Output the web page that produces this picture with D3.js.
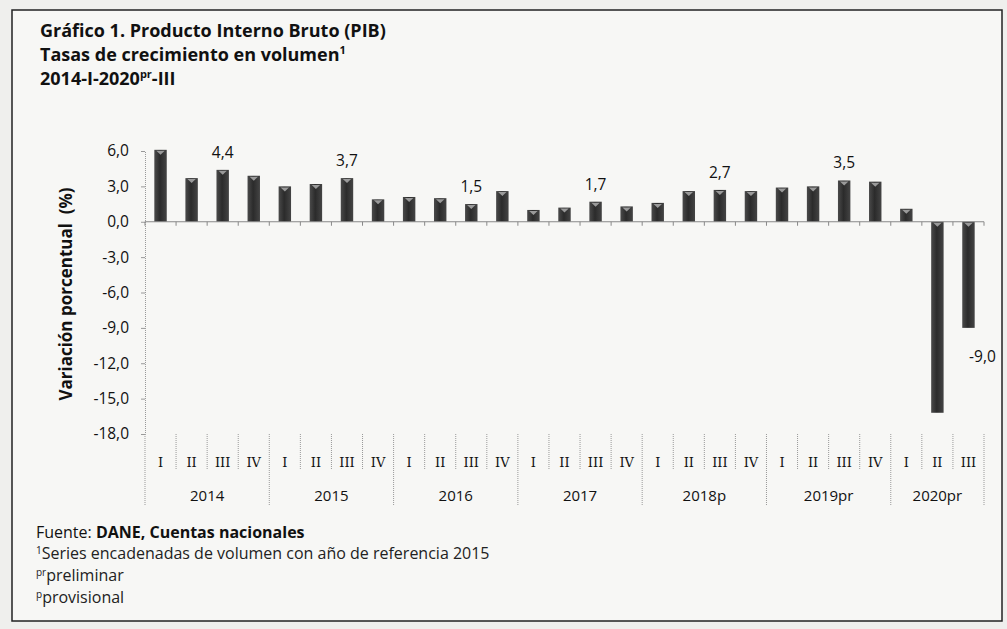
<!DOCTYPE html>
<html>
<head>
<meta charset="utf-8">
<script src="https://cdn.jsdelivr.net/npm/d3@7"></script>
<style>
  body { margin: 0; background: #efefed; }
  svg { display: block; }
</style>
</head>
<body>
<div id="graph"></div>
<script>
// data
const years = ["2014", "2015", "2016", "2017", "2018p", "2019pr", "2020pr"];
const quarters = ["I", "II", "III", "IV"];
const values = [
    6.1, 3.7, 4.4, 3.9,
    3.0, 3.2, 3.7, 1.9,
    2.1, 2.0, 1.5, 2.6,
    1.0, 1.2, 1.7, 1.3,
    1.6, 2.6, 2.7, 2.6,
    2.9, 3.0, 3.5, 3.4,
    1.1, -16.2, -9.0
];
const labelled = [2, 6, 10, 14, 18, 22, 26];
const yTicks = [6, 3, 0, -3, -6, -9, -12, -15, -18];

const W = 1007, H = 629;
const font = "'Open Sans', Lato, sans-serif";

// one entry per bar
let bars = values.map(function (v, i) {
    return {
        key: years[Math.floor(i / 4)] + "-" + quarters[i % 4],
        year: years[Math.floor(i / 4)],
        q: quarters[i % 4],
        value: v,
        i: i
    };
});

let svg = d3.select("#graph")
    .append("svg")
    .attr("width", W)
    .attr("height", H)
    .style("font-family", font);

// frame
svg.append("rect")
    .attr("x", 12).attr("y", 10)
    .attr("width", 990).attr("height", 611)
    .attr("fill", "#f7f7f5")
    .attr("stroke", "#222")
    .attr("stroke-width", 1.5);

// title
let title = svg.append("text")
    .attr("x", 40).attr("y", 37)
    .style("font-weight", "bold").style("font-size", "18px").attr("fill", "#111");
title.append("tspan").text("Gráfico 1. Producto Interno Bruto (PIB)");
title.append("tspan").attr("x", 40).attr("dy", 24).text("Tasas de crecimiento en volumen");
title.append("tspan").attr("dy", -7).style("font-size", "11px").text("1");
title.append("tspan").attr("x", 40).attr("dy", 31).text("2014-I-2020");
title.append("tspan").attr("dy", -7).style("font-size", "11px").text("pr");
title.append("tspan").attr("dy", 7).text("-III");

// scales
const x = d3.scaleBand()
    .domain(bars.map(d => d.key))
    .range([145, 984])
    .paddingInner(0.6)
    .paddingOuter(0.3);

const y = d3.scaleLinear()
    .domain([-18, 6])
    .range([434, 151]);

const step = x.step();
const x0 = 145;
const fmt = function (v) { return d3.format(".1f")(v).replace(".", ",").replace("−", "-"); };

// y axis
let yAxis = svg.append("g")
    .attr("transform", "translate(" + x0 + ",0)")
    .call(d3.axisLeft(y).tickValues(yTicks).tickFormat(fmt).tickSize(4).tickPadding(12));
yAxis.select(".domain").attr("stroke", "#999").attr("stroke-dasharray", "1,1");
yAxis.selectAll(".tick line").attr("stroke", "#999");
yAxis.selectAll(".tick text")
    .attr("fill", "#111")
    .style("font-size", "15.5px")
    .style("font-family", font);

svg.append("text")
    .attr("transform", "translate(72,294) rotate(-90)")
    .attr("text-anchor", "middle")
    .style("font-weight", "bold").style("font-size", "17px")
    .attr("fill", "#111")
    .attr("xml:space", "preserve")
    .style("white-space", "pre")
    .text("Variación porcentual  (%)");

// bar gradient
let defs = svg.append("defs");
let grad = defs.append("linearGradient").attr("id", "barGrad")
    .attr("x1", "0%").attr("x2", "100%").attr("y1", "0%").attr("y2", "0%");
grad.append("stop").attr("offset", "0%").attr("stop-color", "#4a4a4a");
grad.append("stop").attr("offset", "45%").attr("stop-color", "#2b2b2b");
grad.append("stop").attr("offset", "100%").attr("stop-color", "#444");

// bars
svg.selectAll(".bar")
    .data(bars)
    .enter().append("rect")
    .attr("class", "bar")
    .attr("x", d => x(d.key))
    .attr("width", x.bandwidth())
    .attr("y", d => y(Math.max(0, d.value)))
    .attr("height", d => Math.abs(y(d.value) - y(0)))
    .attr("fill", "url(#barGrad)");

// light cap on top of each bar
svg.selectAll(".cap")
    .data(bars)
    .enter().append("path")
    .attr("class", "cap")
    .attr("d", function (d) {
        let bx = x(d.key), bw = x.bandwidth(), by = d.value >= 0 ? y(d.value) : y(0);
        return "M" + (bx + 2) + "," + (by + 1) + "L" + (bx + bw - 2) + "," + (by + 1) +
            "L" + (bx + bw / 2) + "," + (by + 5) + "Z";
    })
    .attr("fill", "#9a9a9a");

// zero line with boundary ticks
svg.append("line")
    .attr("x1", x0).attr("x2", 984)
    .attr("y1", y(0)).attr("y2", y(0))
    .attr("stroke", "#888").attr("stroke-width", 1);

svg.selectAll(".ztick")
    .data(d3.range(bars.length + 1))
    .enter().append("line")
    .attr("class", "ztick")
    .attr("x1", i => x0 + i * step).attr("x2", i => x0 + i * step)
    .attr("y1", y(0)).attr("y2", y(0) + 4)
    .attr("stroke", "#888");

// value labels
svg.selectAll(".vlab")
    .data(bars.filter(d => labelled.includes(d.i)))
    .enter().append("text")
    .attr("class", "vlab")
    .attr("x", d => x(d.key) + x.bandwidth() / 2 + (d.value < 0 ? 14 : 0))
    .attr("y", d => d.value >= 0 ? y(d.value) - 12 : y(d.value) + 34)
    .attr("text-anchor", "middle")
    .style("font-size", "15.5px")
    .attr("fill", "#111")
    .text(d => fmt(d.value));

// category axis at the bottom
const bandTop = 434;
svg.selectAll(".qsep")
    .data(d3.range(bars.length + 1))
    .enter().append("line")
    .attr("class", "qsep")
    .attr("x1", i => x0 + i * step).attr("x2", i => x0 + i * step)
    .attr("y1", i => i === 0 ? y(-18) : bandTop)
    .attr("y2", i => (i % 4 === 0 || i === bars.length) ? 505 : 470)
    .attr("stroke", "#999")
    .attr("stroke-dasharray", "1,1");

svg.selectAll(".qlab")
    .data(bars)
    .enter().append("text")
    .attr("class", "qlab")
    .attr("x", d => x(d.key) + x.bandwidth() / 2)
    .attr("y", 467)
    .attr("text-anchor", "middle")
    .style("font-family", "'DejaVu Serif', 'Liberation Serif', serif")
    .style("font-size", "13px")
    .attr("fill", "#111")
    .text(d => d.q);

svg.selectAll(".ylab")
    .data(years)
    .enter().append("text")
    .attr("class", "ylab")
    .attr("x", function (yr, j) {
        let n = bars.filter(d => d.year === yr).length;
        return x0 + (j * 4 + n / 2) * step;
    })
    .attr("y", 501)
    .attr("text-anchor", "middle")
    .style("font-size", "15px")
    .attr("fill", "#111")
    .text(d => d);

// footnotes
let f1 = svg.append("text").attr("x", 36).attr("y", 538)
    .style("font-size", "16px").attr("fill", "#111");
f1.append("tspan").text("Fuente: ");
f1.append("tspan").style("font-weight", "bold").text("DANE, Cuentas nacionales");

let f2 = svg.append("text").attr("x", 36).attr("y", 559)
    .style("font-size", "16px").attr("fill", "#222");
f2.append("tspan").attr("dy", -5).style("font-size", "10px").text("1");
f2.append("tspan").attr("dy", 5).text("Series encadenadas de volumen con año de referencia 2015");

let f3 = svg.append("text").attr("x", 36).attr("y", 581)
    .style("font-size", "16px").attr("fill", "#222");
f3.append("tspan").attr("dy", -5).style("font-size", "10px").text("pr");
f3.append("tspan").attr("dy", 5).text("preliminar");

let f4 = svg.append("text").attr("x", 36).attr("y", 603)
    .style("font-size", "16px").attr("fill", "#222");
f4.append("tspan").attr("dy", -5).style("font-size", "10px").text("p");
f4.append("tspan").attr("dy", 5).text("provisional");
</script>
</body>
</html>
